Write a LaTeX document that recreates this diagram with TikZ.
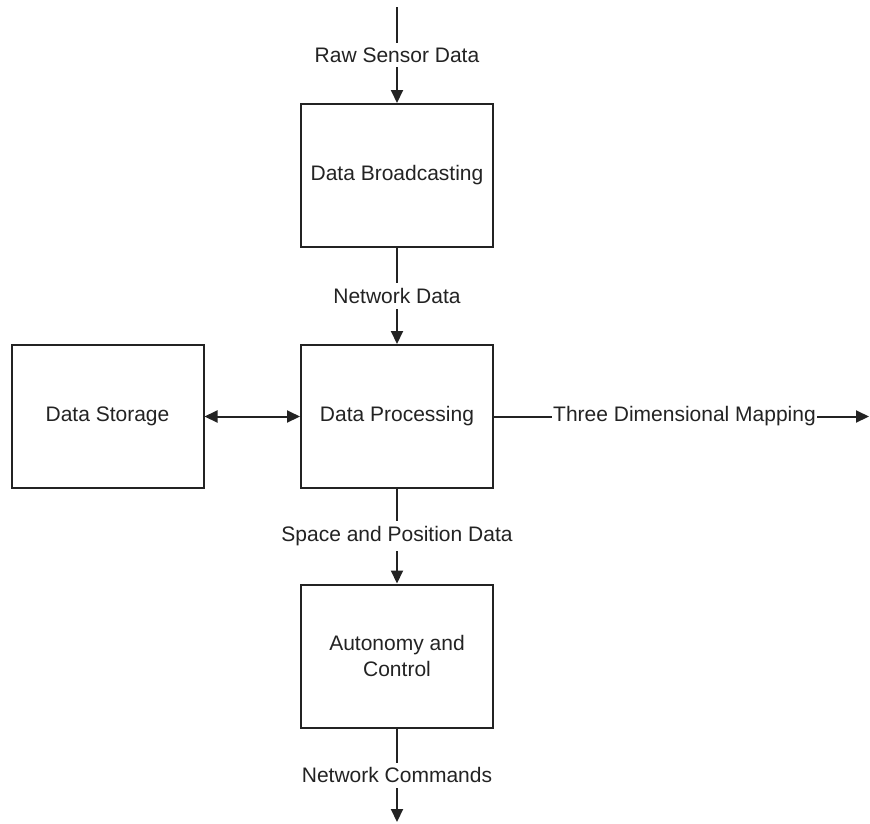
\documentclass[tikz,border=0pt]{standalone}
\usepackage{fontspec}
\setmainfont{Liberation Sans}
\usetikzlibrary{arrows.meta}
\definecolor{ink}{RGB}{35,35,35}
\begin{document}
\begin{tikzpicture}[x=1pt,y=-1pt,
  blk/.style={draw=ink,line width=2pt,minimum width=192pt,minimum height=143pt,
    align=center,text=ink,font=\fontsize{21}{26}\selectfont,inner sep=0pt},
  conn/.style={draw=ink,line width=2pt,-{Triangle[length=13pt,width=12pt]}},
  dconn/.style={draw=ink,line width=2pt,{Triangle[length=13pt,width=12pt]}-{Triangle[length=13pt,width=12pt]}},
  lbl/.style={fill=white,text=ink,font=\fontsize{21}{26}\selectfont,inner xsep=1pt,inner ysep=5pt}]
\useasboundingbox (0,0) rectangle (870,823);
\node[blk] (db) at (397,175.5) {Data Broadcasting};
\node[blk] (dp) at (397,416.5) {Data Processing};
\node[blk] (ds) at (107.5,416.5) {Data Storage};
\node[blk] (ac) at (397,656) {Autonomy and\\Control};
\coordinate (top) at (397,7);
\coordinate (bot) at (397,822);
\coordinate (rgt) at (869,416.5);
\draw[conn] (top) -- node[lbl] {Raw Sensor Data} (db.north);
\draw[conn] (db.south) -- node[lbl] {Network Data} (dp.north);
\draw[dconn] (ds.east) -- (dp.west);
\draw[conn] (dp.east) -- node[lbl,xshift=3pt] {Three Dimensional Mapping} (rgt);
\draw[conn] (dp.south) -- node[lbl] {Space and Position Data} (ac.north);
\draw[conn] (ac.south) -- node[lbl] {Network Commands} (bot);
\end{tikzpicture}
\end{document}
